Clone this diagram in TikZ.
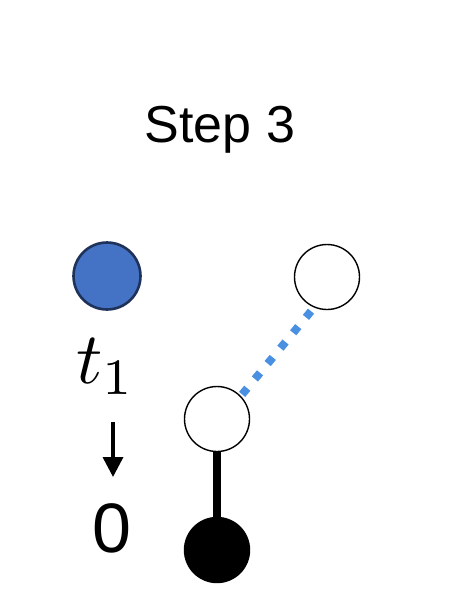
\documentclass[tikz,border=0pt]{standalone}
\usepackage{fontspec}
\setmainfont{Liberation Sans}
\usetikzlibrary{arrows.meta}
\definecolor{ballfill}{RGB}{68,114,196}
\definecolor{balledge}{RGB}{31,50,90}
\definecolor{linkblue}{RGB}{74,144,226}
\newcommand{\bigtext}[1]{\fontsize{#1}{1.2\dimexpr#1pt\relax}\selectfont}
\tikzset{
  vertex/.style={circle, draw=black, line width=1.4pt, inner sep=0pt, minimum size=65pt, fill=white},
  bluevertex/.style={vertex, fill=ballfill, draw=balledge, line width=2.6pt, minimum size=67pt},
  blackvertex/.style={vertex, fill=black},
  dotlink/.style={draw=linkblue, line width=8pt, dash pattern=on 8pt off 12pt},
  solidlink/.style={draw=black, line width=8pt}
}

\begin{document}
\begin{tikzpicture}[x=1pt,y=-1pt]
  \useasboundingbox (0,0) rectangle (463,599);
  % title
  \node (title) at (220,130) {\bigtext{52}Step 3};
  % left column
  \node[bluevertex] (tball) at (107,276) {};
  \node[scale=7.3] (tlabel) at (106,367) {$t_1$};
  \coordinate (arrtop) at (113,422);
  \coordinate (arrtip) at (113,477);
  \draw[line width=3.5pt, -{Triangle[length=20pt,width=20pt]}] (arrtop) -- (arrtip);
  \node (zero) at (112,528) {\bigtext{70}0};
  % tree
  \node[vertex] (upper) at (327,277) {};
  \node[vertex] (mid) at (217,419) {};
  \node[blackvertex] (root) at (217,550) {};
  \draw[solidlink] (mid.south) -- (root.north);
  \draw[dotlink, shorten <=2pt] (mid.44) -- (upper.247);
\end{tikzpicture}
\end{document}
